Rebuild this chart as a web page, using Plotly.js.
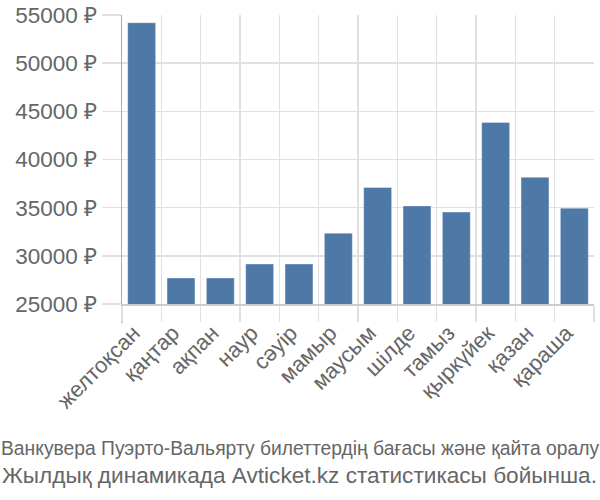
<!DOCTYPE html>
<html>
<head>
<meta charset="utf-8">
<script src="https://cdn.plot.ly/plotly-3.0.1.min.js"></script>
<style>html,body{margin:0;padding:0;background:#fff;}#chart{width:600px;height:500px;}</style>
</head>
<body>
<div id="chart"></div>
<script>
const months = ["желтоқсан","қаңтар","ақпан","наур","сәуір","мамыр","маусым","шілде","тамыз","қыркүйек","қазан","қараша"];
const prices = [54200, 27700, 27700, 29150, 29150, 32350, 37100, 35180, 34550, 43850, 38150, 34950];
const yTicks = [25000, 30000, 35000, 40000, 45000, 50000, 55000];
const titleLine1 = "Ванкувера Пуэрто-Вальярту билеттердің бағасы және қайта оралу";
const titleLine2 = "Жылдық динамикада Avticket.kz статистикасы бойынша.";

const trace = {
  type: "bar",
  x: months,
  y: prices,
  base: 0,
  marker: {color: "#4e79a7", line: {color: "rgba(255,255,255,0.35)", width: 1}},
  hoverinfo: "skip"
};

const layout = {
  width: 600, height: 500,
  margin: {l: 122, r: 6, t: 15, b: 196},
  paper_bgcolor: "#fff", plot_bgcolor: "#fff",
  font: {family: "Liberation Sans, Arial, sans-serif", color: "#666"},
  bargap: 0.29,
  showlegend: false,
  shapes: [
    {type: "line", xref: "paper", yref: "paper", x0: 0, x1: 0, y0: 0, y1: -0.066,
     line: {color: "#aaa", width: 1.5}, layer: "below"}
  ],
  annotations: [
    {text: titleLine1, xref: "paper", yref: "paper", x: 0.3771, y: -0.50, xanchor: "center", yanchor: "middle",
     showarrow: false, font: {family: "Liberation Sans, Arial, sans-serif", size: 19.3, color: "#666"}},
    {text: titleLine2, xref: "paper", yref: "paper", x: 0.3771, y: -0.595, xanchor: "center", yanchor: "middle",
     showarrow: false, font: {family: "Liberation Sans, Arial, sans-serif", size: 22.6, color: "#666"}}
  ],
  xaxis: {
    type: "category",
    tickson: "boundaries",
    ticks: "outside", ticklen: 16, tickcolor: "#e0e0e0", tickwidth: 1.5,
    showgrid: true, gridcolor: "#e0e0e0", gridwidth: 1.5,
    showline: true, linecolor: "#ccc", linewidth: 1.5,
    tickangle: -45,
    ticklabelstandoff: 6,
    ticklabelshift: -8,
    tickfont: {size: 22, color: "#666"},
    fixedrange: true
  },
  yaxis: {
    range: [25000, 55000],
    tickvals: yTicks,
    ticktext: yTicks.map(v => v + " ₽"),
    ticks: "outside", ticklen: 19, tickcolor: "#e0e0e0", tickwidth: 1.5,
    showgrid: true, gridcolor: "#e0e0e0", gridwidth: 1.5,
    showline: true, linecolor: "#aaa", linewidth: 1.5,
    zeroline: false,
    tickfont: {size: 22.5, color: "#666"},
    fixedrange: true
  }
};

Plotly.newPlot("chart", [trace], layout, {displayModeBar: false, staticPlot: true});
</script>
</body>
</html>
